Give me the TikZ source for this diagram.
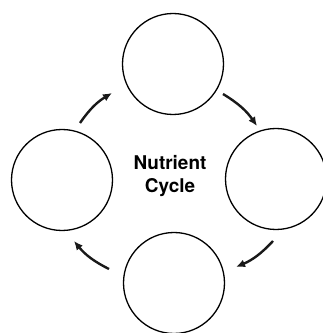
\documentclass[tikz,border=0pt]{standalone}
\usepackage{fontspec}
\setsansfont{TeX Gyre Heros}
\usetikzlibrary{arrows.meta}

\begin{document}
\begin{tikzpicture}[x=1bp,y=1bp]

\tikzset{vertex/.style = {shape=circle,draw,line width=1.3bp,minimum size=101bp,inner sep=0pt}}
\tikzset{edge/.style = {->,> = {Latex[length=9bp,width=8bp]},line width=2.4bp,black!90}}
\useasboundingbox (0,0) rectangle (323,333);
%verticies
\node[vertex] (1) at (173,269) {};
\node[vertex] (2) at (276,154) {};
\node[vertex] (3) at (174,50) {};
\node[vertex] (4) at (62,153) {};
\node[font=\sffamily\bfseries\fontsize{19}{23}\selectfont, align=center] (c) at (170,157) {Nutrient\\Cycle};
%arrow ends
\coordinate (4a) at (80,210);
\coordinate (1a) at (112,240);
\coordinate (1b) at (223,239);
\coordinate (2a) at (257,207);
\coordinate (2b) at (273,92);
\coordinate (3a) at (236,66);
\coordinate (3b) at (109,64);
\coordinate (4b) at (74,92);
%edges
\path [edge] (4a) edge[bend left=12] (1a);
\path [edge] (1b) edge[bend left=12] (2a);
\path [edge] (2b) edge[bend left=12] (3a);
\path [edge] (3b) edge[bend left=12] (4b);

\end{tikzpicture}
\end{document}
